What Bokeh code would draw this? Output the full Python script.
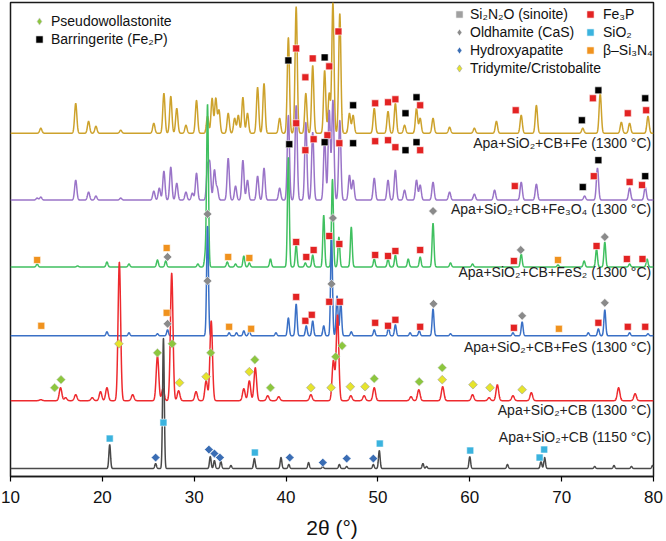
import numpy as np
from bokeh.plotting import figure
from bokeh.models import Range1d, Legend, LegendItem
from bokeh.core.properties import value
from bokeh.embed import file_html
from bokeh.resources import INLINE

# ---------------- data ----------------
trace_names = ["Apa+SiO₂+CB (1150 °C)", "Apa+SiO₂+CB (1300 °C)", "Apa+SiO₂+CB+FeS (1300 °C)",
               "Apa+SiO₂+CB+FeS₂ (1300 °C)", "Apa+SiO₂+CB+Fe₃O₄ (1300 °C)", "Apa+SiO₂+CB+Fe (1300 °C)"]
trace_colors = ["#4a4a4a", "#ee2a2e", "#3a70c6", "#40c060", "#9a74c8", "#cda22c"]
offsets = [8, 76, 141, 210, 277, 344]          # vertical offset of each pattern (a.u.)
label_y = [40, 67, 130, 205, 268, 334]

# peaks: 2theta, intensity above baseline (a.u.)
gray_pos = [20.8, 25.8, 26.65, 31.75, 32.2, 32.9, 34.0, 36.55, 39.45, 40.3, 42.45, 44.0, 45.8, 46.6,
            49.5, 50.15, 54.9, 55.3, 60.0, 64.1, 67.75, 68.15, 73.6, 75.7, 77.6, 79.9]
gray_int = [24, 5, 131, 12, 8, 7, 3, 10, 11, 4, 6, 2, 4, 2, 4, 18, 5, 2, 12, 4, 7, 11, 2, 3, 2, 3]

red_pos = [13.3, 15.45, 16.0, 17.1, 18.9, 19.8, 20.5, 21.85, 23.3, 26.0, 26.6, 27.55, 28.3, 30.2, 31.3,
           31.85, 35.4, 36.0, 36.65, 38.0, 39.2, 42.7, 45.15, 45.6, 47.05, 48.5, 49.6, 53.6, 54.45,
           57.05, 60.3, 62.1, 63.0, 64.7, 66.7, 76.2, 78.0]
red_int = [1, 13, 3, 6, 3, 9, 13, 139, 6, 45, 12, 128, 10, 9, 20, 80, 12, 20, 33, 5, 4, 6, 40, 86, 5, 5,
           13, 4, 11, 14, 6, 3, 16, 5, 8, 13, 7]

blue_pos = [20.5, 22.9, 26.0, 27.1, 31.45, 33.8, 34.6, 35.4, 36.0, 38.9, 40.25, 41.1, 42.2, 42.9, 44.1,
            44.95, 45.55, 45.95, 47.1, 49.6, 51.15, 51.9, 53.5, 54.5, 56.0, 57.9, 64.7, 65.7, 72.9,
            74.0, 74.7, 77.4, 79.4]
blue_int = [4, 3, 2, 6, 110, 3, 3, 5, 5, 3, 18, 32, 10, 15, 10, 100, 40, 35, 4, 6, 8, 11, 3, 5, 27, 2,
            3, 14, 3, 7, 26, 3, 2]

green_pos = [12.9, 17.3, 20.5, 22.9, 26.0, 26.9, 30.4, 31.2, 31.45, 33.6, 34.5, 35.4, 36.0, 38.3, 40.25,
             41.1, 42.1, 42.9, 44.1, 45.05, 45.75, 47.1, 49.6, 51.1, 51.9, 53.3, 54.6, 56.0, 57.9,
             60.3, 65.6, 69.6, 72.45, 73.8, 74.7, 77.4, 79.3]
green_int = [3, 1, 5, 3, 7, 6, 3, 11, 163, 5, 3, 11, 4, 8, 110, 22, 4, 12, 52, 88, 30, 40, 8, 8, 12, 8,
             10, 44, 4, 3, 13, 2, 6, 18, 25, 3, 8]

purple_pos = [12.9, 13.3, 17.1, 18.5, 19.3, 22.0, 25.6, 26.2, 26.7, 27.45, 28.1, 29.1, 29.8, 30.25,
              31.45, 31.7, 32.2, 32.5, 33.7, 34.5, 35.3, 35.8, 36.9, 37.6, 39.3, 40.25, 41.1, 42.15,
              42.9, 44.2, 44.7, 45.1, 45.85, 46.9, 47.3, 49.6, 51.1, 51.9, 52.9, 54.2, 54.6, 56.0,
              57.8, 60.5, 62.7, 65.6, 67.25, 72.5, 73.9, 77.4, 79.1]
purple_int = [2, 3, 20, 8, 4, 2, 9, 12, 29, 33, 17, 8, 7, 27, 32, 35, 30, 12, 42, 14, 40, 20, 24, 32,
              12, 85, 95, 78, 68, 62, 90, 100, 80, 25, 20, 22, 20, 30, 10, 20, 15, 18, 8, 6, 10, 18,
              16, 4, 32, 12, 13]

gold_pos = [13.3, 17.1, 18.5, 19.3, 22.0, 25.6, 26.7, 27.45, 28.1, 29.1, 30.25, 31.45, 31.95, 32.35,
            32.7, 33.7, 34.4, 34.8, 35.3, 35.8, 36.9, 37.6, 39.3, 40.25, 41.1, 42.15, 42.9, 44.2, 44.7,
            45.1, 45.85, 46.9, 47.3, 49.6, 51.1, 51.9, 52.9, 54.2, 54.6, 56.0, 57.8, 60.5, 62.9, 65.6,
            67.25, 72.3, 74.2, 76.5, 77.4, 79.4]
gold_int = [5, 30, 12, 7, 3, 10, 40, 37, 25, 8, 33, 17, 35, 35, 23, 20, 15, 18, 36, 20, 46, 50, 15, 96,
            127, 40, 68, 63, 40, 131, 120, 20, 18, 25, 22, 30, 8, 25, 15, 15, 6, 5, 12, 18, 28, 5, 40,
            11, 10, 17]

peak_pos = [gray_pos, red_pos, blue_pos, green_pos, purple_pos, gold_pos]
peak_int = [gray_int, red_int, blue_int, green_int, purple_int, gold_int]
peak_sigma = [0.09, 0.14, 0.1, 0.1, 0.12, 0.12]

# phase markers (2theta, vertical position a.u.)
sio2_x = [20.8, 26.65, 36.6, 50.2, 60.05, 67.6, 68.1]
sio2_y = [38, 54, 24, 33, 26, 19, 27]
hap_x = [25.8, 31.6, 32.2, 32.8, 40.4, 44.0, 46.6, 49.5]
hap_y = [19, 27, 23, 19, 19, 14, 18, 18]
pw_x = [14.8, 15.5, 26.0, 27.6, 31.8, 36.6, 38.3, 45.4, 46.1, 49.6, 54.5, 57.0]
pw_y = [89, 97, 124, 133, 124, 117, 89, 120, 131, 98, 95, 109]
tri_x = [21.8, 28.4, 31.3, 36.0, 42.7, 44.9, 47.0, 48.6, 57.0, 60.35, 62.2, 65.7]
tri_y = [133, 94, 100, 105, 89, 89, 90, 90, 97, 92, 89, 87]
si3n4_x = [13.35, 27.0, 33.8, 36.2, 69.7, 12.9, 27.0, 33.7, 36.0, 69.6]
si3n4_y = [151, 164, 150, 148, 148, 217, 229, 220, 219, 217]
cas_x = [27.1, 31.45, 44.95, 56.05, 65.7, 74.7, 27.1, 31.45, 45.1, 56.0, 65.55, 74.7]
cas_y = [153, 196, 193, 173, 161, 174, 220, 263, 259, 266, 227, 240]
fe3p_x = [41.1, 42.1, 42.8, 44.7, 45.85, 49.7, 51.1, 51.9, 54.6, 64.8, 74.0, 77.2, 79.1,
          41.1, 42.2, 43.0, 44.7, 45.8, 49.7, 51.1, 51.9, 54.6, 64.8, 73.8, 77.1, 78.8,
          41.1, 42.1, 43.0, 44.5, 45.8, 49.7, 51.1, 51.9, 54.6, 64.9, 73.5, 77.4, 78.75,
          41.1, 42.1, 42.9, 44.7, 45.7, 49.7, 51.1, 51.9, 54.6, 65.0, 73.4, 77.2, 79.2]
fe3p_y = [180, 156, 162, 175, 175, 154, 151, 157, 150, 149, 154, 150, 150,
          235, 220, 227, 241, 233, 222, 221, 226, 227, 216, 231, 218, 218,
          354, 327, 338, 342, 334, 336, 337, 330, 327, 291, 301, 295, 292,
          429, 400, 419, 411, 446, 374, 375, 378, 372, 367, 379, 364, 367]
fe2p_x = [40.35, 44.2, 47.3, 53.0, 54.2, 72.3, 74.0, 79.1,
          40.25, 44.2, 47.3, 53.0, 54.2, 72.2, 74.0, 79.1]
fe2p_y = [333, 335, 334, 327, 335, 290, 317, 301,
          417, 420, 372, 364, 380, 357, 387, 379]

x_ticks = [10, 20, 30, 40, 50, 60, 70, 80]

# ---------------- figure ----------------
FONT = "Liberation Sans"
p = figure(width=666, height=541, x_range=Range1d(10, 80), y_range=Range1d(0, 475),
           output_backend="svg", toolbar_location=None,
           min_border_left=10, min_border_right=13, min_border_top=2, min_border_bottom=64)
p.xgrid.visible = False
p.ygrid.visible = False
p.yaxis.visible = False
p.outline_line_color = "#1a1a1a"
p.outline_line_width = 1.5

ax = p.xaxis[0]
ax.ticker = x_ticks
ax.ticker.num_minor_ticks = 2
ax.axis_line_color = "#1a1a1a"
ax.axis_line_width = 1.5
ax.major_tick_in = 0
ax.major_tick_out = 5
ax.minor_tick_in = 0
ax.minor_tick_out = 5
ax.major_tick_line_width = 1.2
ax.minor_tick_line_width = 1.2
ax.major_label_text_font = FONT
ax.major_label_text_font_size = "17px"
ax.major_label_text_color = "#111111"
ax.major_label_standoff = 9
ax.axis_label = "2θ (°)"
ax.axis_label_text_font = FONT
ax.axis_label_text_font_style = "normal"
ax.axis_label_text_font_size = "21px"
ax.axis_label_text_color = "#111111"
ax.axis_label_standoff = 10

grid = np.arange(10.0, 80.0001, 0.02)
order = [5, 4, 3, 2, 1, 0]
for i in order:
    y = np.full_like(grid, float(offsets[i]))
    for pos, h in zip(peak_pos[i], peak_int[i]):
        y = y + h * np.exp(-0.5 * ((grid - pos) / peak_sigma[i]) ** 2)
    p.line(grid, y, line_color=trace_colors[i], line_width=1.5)

p.text(x=[79.75] * 6, y=label_y, text=trace_names, text_align="right", text_baseline="middle",
       text_font=value(FONT), text_font_size="14px", text_color="#222222")

# markers
DIA = np.pi / 4
def sq(xs, ys, color, line="white"):
    p.scatter(xs, ys, marker="square", size=7, fill_color=color, line_color=line, line_width=0.6)
def dia(xs, ys, color, line="white"):
    p.scatter(xs, ys, marker="square", angle=DIA, size=6.2, fill_color=color, line_color=line,
              line_width=0.6)

sq(sio2_x, sio2_y, "#3bb3de")
dia(hap_x, hap_y, "#3a6db4")
dia(pw_x, pw_y, "#8cc63e", "#d0d0d0")
dia(tri_x, tri_y, "#e6e42c", "#9a9a9a")
sq(si3n4_x, si3n4_y, "#f0921e")
dia(cas_x, cas_y, "#8a8a8a")
sq(fe3p_x, fe3p_y, "#e32323")
sq(fe2p_x, fe2p_y, "#000000")

# legend-only renderers (a single NaN point: nothing drawn in the plot area)
NAN = [float("nan")]
def leg_r(marker, color, line="white"):
    return p.scatter(x=NAN, y=NAN, marker=marker, fill_color=color, line_color=line, line_width=0.6)

r_pw = leg_r("diamond", "#8cc63e", "#c8c8c8")
r_fe2p = leg_r("square", "#000000")
r_si2n2o = leg_r("square", "#a0a0a0")
r_cas = leg_r("diamond", "#8a8a8a")
r_hap = leg_r("diamond", "#3a6db4")
r_tri = leg_r("diamond", "#e6e42c", "#9a9a9a")
r_fe3p = leg_r("square", "#e32323")
r_sio2 = leg_r("square", "#3bb3de")
r_si3n4 = leg_r("square", "#f0921e")

def make_legend(items, loc, standoff):
    lg = Legend(items=[LegendItem(label=t, renderers=[r]) for t, r in items], location=loc,
                orientation="vertical", background_fill_alpha=0, border_line_alpha=0,
                padding=0, margin=0, spacing=0, glyph_width=18, glyph_height=18,
                label_standoff=standoff, label_height=18, label_text_font=FONT,
                label_text_font_size="14px", label_text_color="#111111")
    p.add_layout(lg)
    return lg

make_legend([("Pseudowollastonite", r_pw), ("Barringerite (Fe₂P)", r_fe2p)], (20, 428), 3)
make_legend([("Si₂N₂O (sinoite)", r_si2n2o), ("Oldhamite (CaS)", r_cas),
             ("Hydroxyapatite", r_hap), ("Tridymite/Cristobalite", r_tri)], (440, 399), 2)
make_legend([("Fe₃P", r_fe3p), ("SiO₂", r_sio2), ("β–Si₃N₄", r_si3n4)], (571, 417), 4)

open("out.html", "w").write(file_html(p, INLINE))
